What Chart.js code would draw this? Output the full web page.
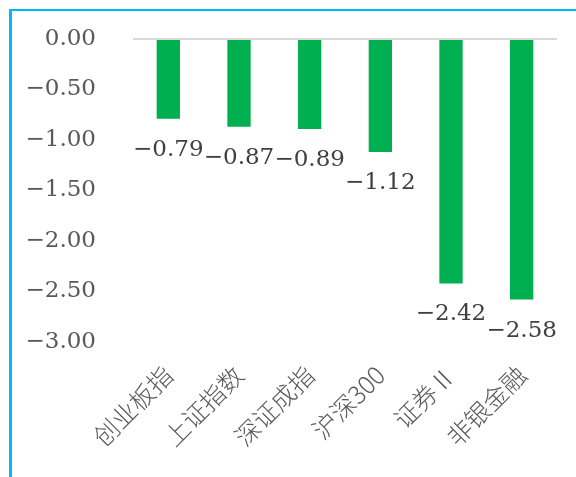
<!DOCTYPE html>
<html>
<head>
<meta charset="utf-8">
<script src="https://cdn.jsdelivr.net/npm/chart.js@4.4.0/dist/chart.umd.min.js"></script>
<style>
  html, body { margin: 0; padding: 0; background: #fff; }
  #wrap { position: relative; width: 576px; height: 477px; overflow: hidden; }
  #frame { position: absolute; left: 9px; top: 9px; width: 600px; height: 500px;
           border-top: 2px solid #00b8f5; border-left: 3px solid #00b8f5; box-sizing: border-box; }
  #c { position: absolute; left: 0; top: 0; }
</style>
</head>
<body>
<div id="wrap">
  <div id="frame"></div>
  <canvas id="c" width="576" height="477"></canvas>
</div>
<script>
const categories = ['创业板指', '上证指数', '深证成指', '沪深300', '证券Ⅱ', '非银金融'];
const values = [-0.79, -0.87, -0.89, -1.12, -2.42, -2.58];
const yTicks = [0, -0.5, -1, -1.5, -2, -2.5, -3];

const numFont = '"DejaVu Serif", "Liberation Serif", serif';
const cjkFont = '"Noto Sans CJK SC", "Noto Sans", sans-serif';
const fmt = (v) => Number(v).toFixed(2).replace('-', '\u2212');

const labelPlugin = {
  id: 'barLabels',
  afterDatasetsDraw(chart) {
    const ctx = chart.ctx;
    const meta = chart.getDatasetMeta(0);
    const ys = chart.scales.y;
    ctx.save();
    ctx.font = '23px ' + numFont;
    ctx.fillStyle = '#404040';
    ctx.textAlign = 'center';
    ctx.textBaseline = 'middle';
    meta.data.forEach((bar, i) => {
      const yEnd = ys.getPixelForValue(values[i]);
      ctx.fillText(fmt(values[i]), bar.x, yEnd + 31);
    });
    ctx.restore();
  }
};

new Chart(document.getElementById('c'), {
  type: 'bar',
  data: {
    labels: categories,
    datasets: [{
      data: values,
      backgroundColor: '#00b050',
      barPercentage: 0.33,
      categoryPercentage: 1.0
    }]
  },
  options: {
    responsive: false,
    animation: false,
    devicePixelRatio: 1,
    layout: { padding: { left: 0, right: 19, top: 39, bottom: 0 } },
    plugins: { legend: { display: false }, tooltip: { enabled: false } },
    scales: {
      x: {
        offset: true,
        grid: { display: false, drawTicks: false },
        border: { display: false },
        ticks: {
          maxRotation: 45, minRotation: 45,
          padding: 18,
          color: '#595959',
          font: { family: cjkFont, size: 25, weight: 300 }
        },
        afterFit(scale) { scale.height = 135; scale.paddingLeft = 0; scale.paddingRight = 0; }
      },
      y: {
        min: -3, max: 0,
        afterBuildTicks(scale) { scale.ticks = yTicks.map(v => ({ value: v })); },
        grid: {
          drawTicks: false,
          lineWidth: 2,
          color: (c) => (c.tick && c.tick.value === 0 ? '#d9d9d9' : 'rgba(0,0,0,0)')
        },
        border: { display: false },
        ticks: {
          padding: 37,
          color: '#595959',
          font: { family: numFont, size: 23 },
          callback: (v) => fmt(v)
        },
        afterFit(scale) { scale.width = 133; scale.paddingTop = 0; scale.paddingBottom = 0; }
      }
    }
  },
  plugins: [labelPlugin]
});
</script>
</body>
</html>
